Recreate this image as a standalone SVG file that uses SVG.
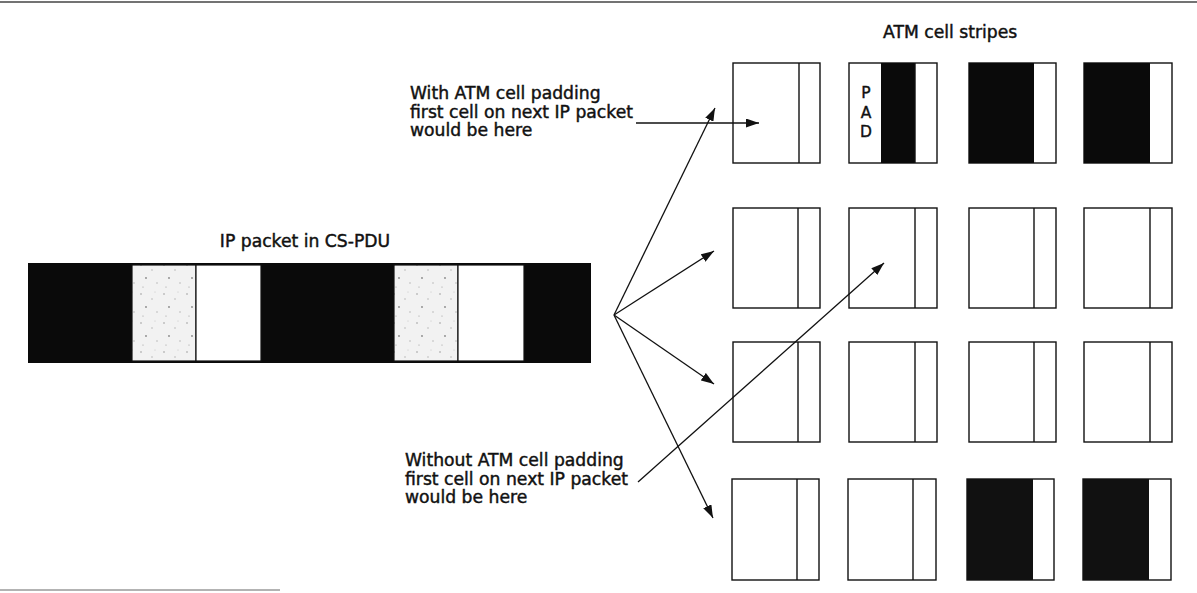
<svg xmlns="http://www.w3.org/2000/svg" width="1197" height="593" viewBox="0 0 1197 593">
<style>
.t{font-family:"DejaVu Sans","Liberation Sans",sans-serif;font-size:17.2px;fill:#111;stroke:#111;stroke-width:0.45}
.pad{font-family:"DejaVu Sans","Liberation Sans",sans-serif;font-size:15.5px;fill:#111;stroke:#111;stroke-width:0.4;text-anchor:middle}
.cell{fill:#fff;stroke:#111;stroke-width:1.4}
.blk{fill:#0a0a0a}
.div{stroke:#111;stroke-width:1.4}
.seg{stroke:#111;stroke-width:1.2}
.con{stroke:#111;stroke-width:1.3;fill:none}
</style>
<defs>
<marker id="ah" viewBox="0 0 13 9" refX="13" refY="4.5" markerWidth="13" markerHeight="9" markerUnits="userSpaceOnUse" orient="auto">
<path d="M0,0 L13,4.5 L0,9 Z" fill="#111"/>
</marker>
<pattern id="speck" width="23" height="29" patternUnits="userSpaceOnUse">
<rect width="23" height="29" fill="#f2f2f2"/>
<circle cx="3" cy="4" r="0.8" fill="#999"/>
<circle cx="14" cy="9" r="0.7" fill="#aaa"/>
<circle cx="8" cy="17" r="0.9" fill="#888"/>
<circle cx="19" cy="22" r="0.7" fill="#aaa"/>
<circle cx="5" cy="26" r="0.6" fill="#999"/>
<circle cx="17" cy="2" r="0.5" fill="#bbb"/>
</pattern>
</defs>
<rect width="1197" height="593" fill="#fff"/>
<line x1="0" y1="2" x2="1197" y2="2" stroke="#444" stroke-width="1.5"/>
<line x1="0" y1="590" x2="280" y2="590" stroke="#666" stroke-width="1"/>

<g id="label-stripes"><text class="t" x="883" y="38">ATM cell stripes</text></g>
<g id="label-ip"><text class="t" x="305" y="247" text-anchor="middle">IP packet in CS-PDU</text></g>
<g id="label-with"><text class="t" x="410" y="99">With ATM cell padding</text><text class="t" x="410" y="117.5">first cell on next IP packet</text><text class="t" x="410" y="136">would be here</text></g>
<g id="label-without"><text class="t" x="405" y="466">Without ATM cell padding</text><text class="t" x="405" y="484.5">first cell on next IP packet</text><text class="t" x="405" y="503">would be here</text></g>

<g id="packet">
<rect x="28" y="263" width="563" height="100" fill="#0a0a0a"/>
<rect class="seg" x="132" y="265" width="64" height="96" fill="url(#speck)"/>
<rect class="seg" x="196" y="265" width="65" height="96" fill="#fff"/>
<rect class="seg" x="394" y="265" width="64" height="96" fill="url(#speck)"/>
<rect class="seg" x="458" y="265" width="66" height="96" fill="#fff"/>
</g>

<g id="cell-r1c1"><rect class="cell" x="733" y="63" width="87" height="100"/><line class="div" x1="799" y1="63" x2="799" y2="163"/></g>
<g id="cell-r1c2"><rect class="cell" x="849" y="63" width="88" height="100"/><rect class="blk" x="881" y="63" width="34" height="100"/><line class="div" x1="915" y1="63" x2="915" y2="163"/><text class="pad" x="866" y="98">P</text><text class="pad" x="866" y="118">A</text><text class="pad" x="866" y="137">D</text></g>
<g id="cell-r1c3"><rect class="cell" x="969" y="63" width="87" height="100"/><rect class="blk" x="969" y="63" width="65" height="100"/></g>
<g id="cell-r1c4"><rect class="cell" x="1084" y="63" width="88" height="100"/><rect class="blk" x="1084" y="63" width="66" height="100"/></g>

<g id="cell-r2c1"><rect class="cell" x="733" y="208" width="87" height="100"/><line class="div" x1="798" y1="208" x2="798" y2="308"/></g>
<g id="cell-r2c2"><rect class="cell" x="849" y="208" width="88" height="100"/><line class="div" x1="915" y1="208" x2="915" y2="308"/></g>
<g id="cell-r2c3"><rect class="cell" x="969" y="208" width="87" height="100"/><line class="div" x1="1034" y1="208" x2="1034" y2="308"/></g>
<g id="cell-r2c4"><rect class="cell" x="1084" y="208" width="88" height="100"/><line class="div" x1="1150" y1="208" x2="1150" y2="308"/></g>

<g id="cell-r3c1"><rect class="cell" x="733" y="342" width="87" height="100"/><line class="div" x1="798" y1="342" x2="798" y2="442"/></g>
<g id="cell-r3c2"><rect class="cell" x="849" y="342" width="88" height="100"/><line class="div" x1="915" y1="342" x2="915" y2="442"/></g>
<g id="cell-r3c3"><rect class="cell" x="969" y="342" width="87" height="100"/><line class="div" x1="1034" y1="342" x2="1034" y2="442"/></g>
<g id="cell-r3c4"><rect class="cell" x="1084" y="342" width="88" height="100"/><line class="div" x1="1150" y1="342" x2="1150" y2="442"/></g>

<g id="cell-r4c1"><rect class="cell" x="732" y="479" width="87" height="101"/><line class="div" x1="797" y1="479" x2="797" y2="580"/></g>
<g id="cell-r4c2"><rect class="cell" x="848" y="479" width="88" height="101"/><line class="div" x1="913" y1="479" x2="913" y2="580"/></g>
<g id="cell-r4c3"><rect class="cell" x="967" y="479" width="87" height="101"/><rect x="967" y="479" width="66" height="101" fill="#111"/></g>
<g id="cell-r4c4"><rect class="cell" x="1083" y="479" width="88" height="101"/><rect x="1083" y="479" width="66" height="101" fill="#111"/></g>

<g id="connectors">
<line class="con" x1="614" y1="315" x2="715" y2="108" marker-end="url(#ah)"/>
<line class="con" x1="614" y1="315" x2="714" y2="251" marker-end="url(#ah)"/>
<line class="con" x1="614" y1="315" x2="714" y2="384" marker-end="url(#ah)"/>
<line class="con" x1="614" y1="315" x2="713" y2="518" marker-end="url(#ah)"/>
<line class="con" x1="638" y1="482" x2="884" y2="263" marker-end="url(#ah)"/>
<line class="con" x1="636" y1="123" x2="759" y2="123" marker-end="url(#ah)"/>
</g>
</svg>
